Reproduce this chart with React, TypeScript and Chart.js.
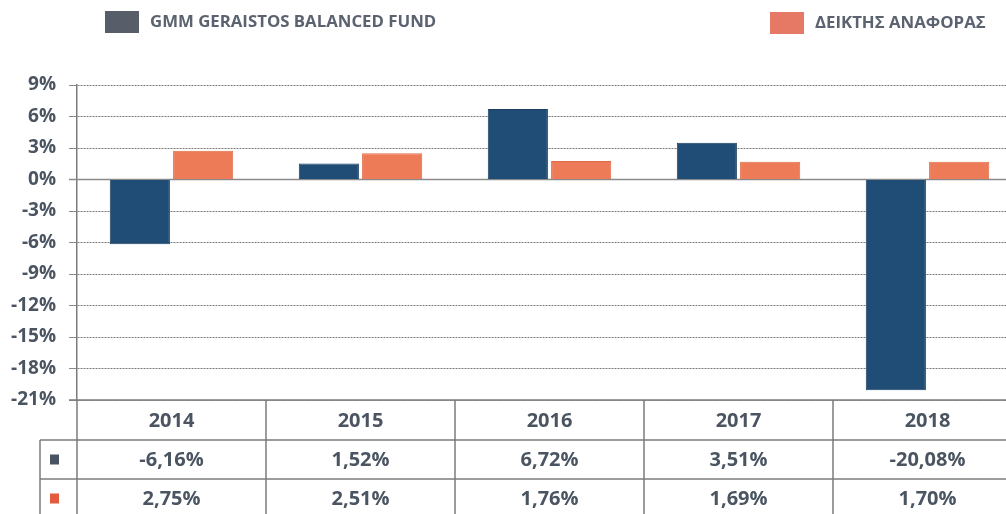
import React, { useEffect, useRef } from "react";
import { Chart, registerables } from "chart.js";

Chart.register(...registerables);

const years = ["2014", "2015", "2016", "2017", "2018"];
const fundLabel = "GMM GERAISTOS BALANCED FUND";
const benchLabel = "ΔΕΙΚΤΗΣ ΑΝΑΦΟΡΑΣ";
const fundValues = [-6.16, 1.52, 6.72, 3.51, -20.08];
const benchValues = [2.75, 2.51, 1.76, 1.69, 1.7];
const yMin = -21;
const yMax = 9;
const yStep = 3;

const FONT = "'Open Sans', 'DejaVu Sans', sans-serif";
const TEXT = "#4b5562";
const BLUE = "#1f4d75";
const ORANGE = "#ee7b58";
const LEG_BLUE = "#575e69";
const LEG_ORANGE = "#e67866";
const MARK_BLUE = "#4a5361";
const MARK_ORANGE = "#e35b3e";
const LINE = "#7c7c7c";

const fmt = (v: number) => v.toFixed(2).replace(".", ",") + "%";

const decorPlugin = {
  id: "decor",
  beforeDatasetsDraw(chart: any) {
    const { ctx, chartArea, scales } = chart;
    const y0 = scales.y.getPixelForValue(0);
    ctx.save();
    ctx.strokeStyle = "#8a8a8a";
    ctx.lineWidth = 1.5;
    ctx.beginPath();
    ctx.moveTo(chartArea.left - 8, y0);
    ctx.lineTo(chartArea.right, y0);
    ctx.stroke();
    ctx.restore();
  },
  afterDraw(chart: any) {
    const { ctx, chartArea, scales, height } = chart;
    const n = years.length;
    const left = chartArea.left;
    const right = chartArea.right;
    const catW = (right - left) / n;
    const top = chartArea.bottom;
    const r1 = top + 40;
    const r2 = r1 + 39;
    const r3 = r2 + 39;
    const colLeft = 40;

    ctx.save();
    // legend
    ctx.font = `700 16.8px ${FONT}`;
    ctx.textBaseline = "middle";
    ctx.textAlign = "left";
    ctx.fillStyle = LEG_BLUE;
    ctx.fillRect(105, 11, 34, 22);
    ctx.fillStyle = "#5b6370";
    ctx.fillText(fundLabel, 150, 22);
    ctx.fillStyle = LEG_ORANGE;
    ctx.fillRect(770, 12, 34, 22);
    ctx.fillStyle = "#5b6370";
    ctx.fillText(benchLabel, 815, 23);

    // table lines
    ctx.strokeStyle = LINE;
    ctx.lineWidth = 1.5;
    ctx.beginPath();
    ctx.moveTo(left - 8, top);
    ctx.lineTo(right, top);
    ctx.moveTo(colLeft, r1);
    ctx.lineTo(right, r1);
    ctx.moveTo(colLeft, r2);
    ctx.lineTo(right, r2);
    ctx.moveTo(colLeft, r3);
    ctx.lineTo(right, r3);
    ctx.moveTo(colLeft, r1);
    ctx.lineTo(colLeft, height);
    ctx.moveTo(left, top);
    ctx.lineTo(left, height);
    for (let i = 1; i < n; i++) {
      const x = left + i * catW;
      ctx.moveTo(x, top);
      ctx.lineTo(x, height);
    }
    ctx.stroke();

    // markers
    ctx.fillStyle = MARK_BLUE;
    ctx.fillRect(50, (r1 + r2) / 2 - 5, 9, 10);
    ctx.fillStyle = MARK_ORANGE;
    ctx.fillRect(50, (r2 + r3) / 2 - 5, 9, 10);

    // texts
    ctx.font = `700 20px ${FONT}`;
    ctx.textAlign = "center";
    ctx.fillStyle = TEXT;
    years.forEach((yr, i) => {
      const cx = scales.x.getPixelForValue(i);
      ctx.fillText(yr, cx, (top + r1) / 2 + 1);
      ctx.fillText(fmt(fundValues[i]), cx, (r1 + r2) / 2 + 1);
      ctx.fillText(fmt(benchValues[i]), cx, (r2 + r3) / 2 + 1);
    });
    ctx.restore();
  },
};

export default function App() {
  const ref = useRef<HTMLCanvasElement | null>(null);

  useEffect(() => {
    if (!ref.current) return;
    const chart = new Chart(ref.current, {
      type: "bar",
      data: {
        labels: years,
        datasets: [
          {
            label: fundLabel,
            data: fundValues,
            backgroundColor: BLUE,
            borderColor: "#1a3f60",
            borderWidth: 1,
            categoryPercentage: 0.67,
            barPercentage: 0.95,
          },
          {
            label: benchLabel,
            data: benchValues,
            backgroundColor: ORANGE,
            borderColor: "#e06a48",
            borderWidth: 1,
            categoryPercentage: 0.67,
            barPercentage: 0.95,
          },
        ],
      },
      options: {
        responsive: false,
        animation: false,
        events: [],
        layout: { padding: { top: 85, bottom: 114, left: 0, right: 2 } },
        plugins: {
          legend: { display: false },
          tooltip: { enabled: false },
          title: { display: false },
        },
        scales: {
          x: { display: false },
          y: {
            min: yMin,
            max: yMax,
            afterFit: (s: any) => {
              s.width = 77;
            },
            ticks: {
              stepSize: yStep,
              padding: 13,
              color: TEXT,
              font: { family: FONT, size: 19, weight: "700" as any },
              callback: (v: any) => `${v}%`,
            },
            grid: {
              color: "#7a7a7a",
              lineWidth: 1,
              tickLength: 8,
              tickColor: "#8a8a8a",
            },
            border: { display: true, color: LINE, width: 1.5, dash: [2, 1] },
          },
        },
      },
      plugins: [decorPlugin],
    });
    return () => chart.destroy();
  }, []);

  return (
    <div
      style={{
        position: "fixed",
        left: 0,
        top: 0,
        width: 1006,
        height: 514,
        overflow: "hidden",
        background: "#fff",
      }}
    >
      <canvas ref={ref} width={1024} height={514} style={{ display: "block" }} />
    </div>
  );
}
